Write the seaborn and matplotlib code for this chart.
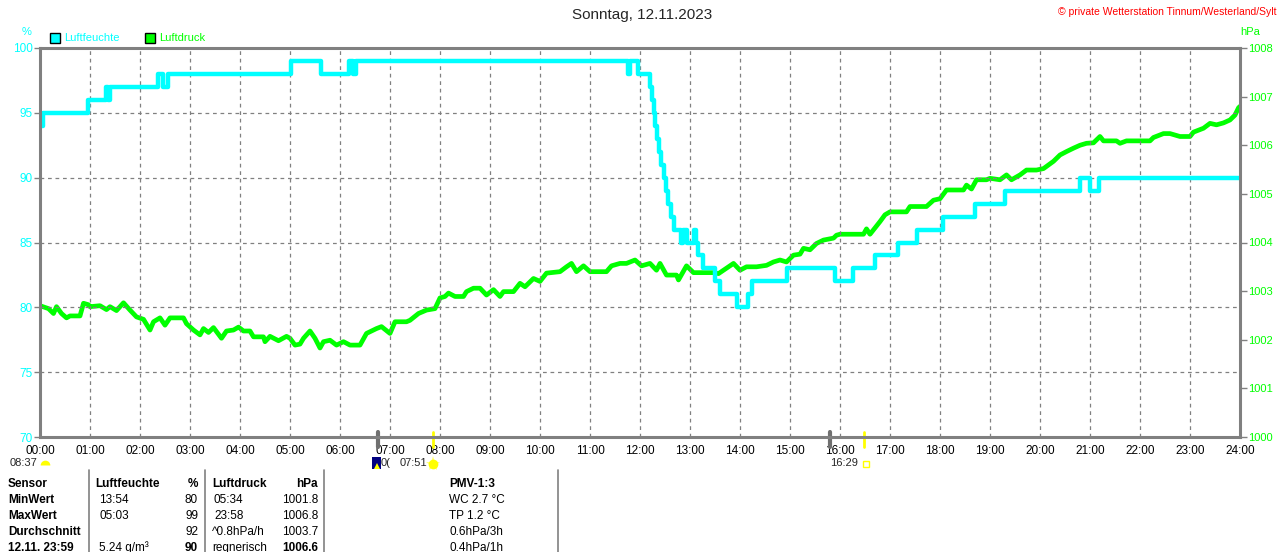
import pandas as pd
import matplotlib.pyplot as plt
import seaborn as sns
from matplotlib.patches import Rectangle
from matplotlib.lines import Line2D

# Luftfeuchte (%), stepwise values: hour of day -> value
hum_time = [0.0, 0.05, 0.95, 1.32, 1.36, 1.40, 2.36, 2.45, 2.56, 5.02, 5.62, 6.18, 6.26, 6.32,
            11.76, 11.80, 11.95, 12.20, 12.24, 12.27, 12.30, 12.33, 12.37, 12.42, 12.47, 12.52,
            12.56, 12.62, 12.68, 12.82, 12.86, 12.94, 13.08, 13.12, 13.16, 13.26, 13.50, 13.60,
            13.94, 14.16, 14.24, 14.94, 15.90, 16.25, 16.70, 17.16, 17.53, 18.05, 18.70, 19.30,
            20.80, 21.00, 21.17, 24.0]
hum_val = [94, 95, 96, 97, 96, 97, 98, 97, 98, 99, 98, 99, 98, 99,
           98, 99, 98, 97, 96, 95, 94, 93, 92, 91, 90, 89,
           88, 87, 86, 85, 86, 85, 86, 85, 84, 83, 82, 81,
           80, 81, 82, 83, 82, 83, 84, 85, 86, 87, 88, 89,
           90, 89, 90, 90]

# Luftdruck (hPa)
press_time = [0.0, 0.03, 0.17, 0.27, 0.33, 0.43, 0.53, 0.6, 0.8, 0.87, 0.97, 1.0, 1.2, 1.33, 1.4,
              1.53, 1.6, 1.67, 1.8, 1.93, 2.07, 2.2, 2.27, 2.4, 2.5, 2.6, 2.75, 2.87, 2.93, 3.07,
              3.2, 3.27, 3.37, 3.47, 3.63, 3.73, 3.87, 3.97, 4.07, 4.2, 4.27, 4.47, 4.5, 4.6, 4.77,
              4.93, 5.0, 5.1, 5.2, 5.27, 5.4, 5.5, 5.6, 5.67, 5.8, 5.93, 6.07, 6.2, 6.4, 6.53,
              6.73, 6.83, 7.0, 7.1, 7.2, 7.33, 7.4, 7.57, 7.73, 7.9, 8.0, 8.1, 8.17, 8.3, 8.47,
              8.53, 8.67, 8.8, 8.93, 9.07, 9.2, 9.27, 9.47, 9.6, 9.7, 9.87, 10.0, 10.13, 10.4,
              10.53, 10.63, 10.73, 10.87, 11.0, 11.33, 11.43, 11.6, 11.73, 11.9, 12.03, 12.2,
              12.33, 12.4, 12.53, 12.73, 12.77, 12.93, 13.07, 13.47, 13.57, 13.87, 14.0, 14.13,
              14.33, 14.53, 14.67, 14.8, 14.93, 15.07, 15.2, 15.27, 15.4, 15.53, 15.67, 15.87,
              15.93, 16.0, 16.47, 16.53, 16.6, 16.8, 16.9, 17.0, 17.33, 17.4, 17.73, 17.87, 18.0,
              18.13, 18.27, 18.47, 18.53, 18.63, 18.73, 18.93, 19.0, 19.2, 19.33, 19.43, 19.6,
              19.73, 19.93, 20.07, 20.27, 20.4, 20.53, 20.67, 20.8, 20.93, 21.07, 21.2, 21.27,
              21.53, 21.6, 21.73, 22.2, 22.27, 22.47, 22.6, 22.8, 23.0, 23.07, 23.27, 23.4,
              23.53, 23.67, 23.8, 23.9, 23.97, 24.0]
press_val = [1002.68, 1002.69, 1002.64, 1002.54, 1002.68, 1002.54, 1002.45, 1002.49, 1002.49,
             1002.75, 1002.72, 1002.68, 1002.70, 1002.62, 1002.68, 1002.60, 1002.68, 1002.76,
             1002.61, 1002.47, 1002.42, 1002.20, 1002.37, 1002.45, 1002.30, 1002.45, 1002.45,
             1002.45, 1002.33, 1002.20, 1002.10, 1002.23, 1002.15, 1002.25, 1002.03, 1002.18,
             1002.20, 1002.26, 1002.18, 1002.18, 1002.06, 1002.06, 1001.96, 1002.07, 1001.98,
             1002.07, 1002.03, 1001.89, 1001.91, 1002.03, 1002.18, 1002.03, 1001.83, 1001.96,
             1001.99, 1001.89, 1001.96, 1001.89, 1001.89, 1002.13, 1002.23, 1002.27, 1002.13,
             1002.37, 1002.37, 1002.37, 1002.40, 1002.54, 1002.61, 1002.64, 1002.86, 1002.89,
             1002.96, 1002.89, 1002.89, 1002.99, 1003.06, 1003.06, 1002.92, 1003.03, 1002.89,
             1002.99, 1002.99, 1003.16, 1003.09, 1003.26, 1003.20, 1003.37, 1003.40, 1003.50,
             1003.57, 1003.40, 1003.52, 1003.40, 1003.40, 1003.52, 1003.57, 1003.57, 1003.64,
             1003.52, 1003.57, 1003.43, 1003.57, 1003.33, 1003.33, 1003.23, 1003.52, 1003.38,
             1003.38, 1003.36, 1003.57, 1003.43, 1003.50, 1003.50, 1003.53, 1003.60, 1003.64,
             1003.60, 1003.74, 1003.76, 1003.88, 1003.85, 1003.98, 1004.05, 1004.09, 1004.15,
             1004.17, 1004.17, 1004.28, 1004.17, 1004.43, 1004.57, 1004.63, 1004.63, 1004.74,
             1004.74, 1004.87, 1004.90, 1005.08, 1005.08, 1005.08, 1005.18, 1005.10, 1005.29,
             1005.29, 1005.32, 1005.29, 1005.39, 1005.29, 1005.39, 1005.49, 1005.49, 1005.52,
             1005.67, 1005.80, 1005.87, 1005.94, 1006.00, 1006.04, 1006.05, 1006.18, 1006.09,
             1006.09, 1006.04, 1006.09, 1006.09, 1006.16, 1006.24, 1006.24, 1006.18, 1006.18,
             1006.27, 1006.35, 1006.45, 1006.42, 1006.46, 1006.52, 1006.62, 1006.77, 1006.80]

hour_labels = ["%02d:00" % h for h in range(25)]
hum_ticks = [70, 75, 80, 85, 90, 95, 100]
press_ticks = [1000, 1001, 1002, 1003, 1004, 1005, 1006, 1007, 1008]
sun_marks = [6.76, 15.8]     # grey marks under the time axis
sun_yellow = [7.85, 16.48]   # yellow marks under the time axis

table_rows = [
    ["Sensor", "Luftfeuchte", "%", "Luftdruck", "hPa", "PMV-1:3"],
    ["MinWert", "13:54", "80", "05:34", "1001.8", "WC 2.7 °C"],
    ["MaxWert", "05:03", "99", "23:58", "1006.8", "TP 1.2 °C"],
    ["Durchschnitt", "", "92", "^0.8hPa/h", "1003.7", "0.6hPa/3h"],
    ["12.11. 23:59", "5.24 g/m³", "90", "regnerisch", "1006.6", "0.4hPa/1h"],
]

CYAN = "#00FFFF"
GREEN = "#00FF00"
GREY = "#808080"

sns.set_style("white")
plt.rcParams['font.family'] = ['Liberation Sans', 'DejaVu Sans']

W, H = 1280, 552
fig = plt.figure(figsize=(12.8, 5.52), dpi=100)
fig.patch.set_facecolor("white")


def fx(px):
    return px / W


def fy(py):
    return 1 - py / H


ax = fig.add_axes([fx(40), fy(437), 1200 / W, 389 / H])
ax2 = ax.twinx()
ax.set_zorder(3)
ax.patch.set_visible(False)
ax2.patch.set_facecolor("white")

df_p = pd.DataFrame({"t": press_time, "p": press_val})
df_h = pd.DataFrame({"t": hum_time, "h": hum_val})

sns.lineplot(data=df_p, x="t", y="p", ax=ax2, color=GREEN, lw=3.4,
             estimator=None, sort=False, legend=False)
sns.lineplot(data=df_h, x="t", y="h", ax=ax, color=CYAN, lw=3.2,
             drawstyle="steps-post", estimator=None, sort=False, legend=False)

ax.set_xlim(0, 24)
ax.set_ylim(70, 100)
ax2.set_ylim(1000, 1008)
ax.set_xlabel("")
ax.set_ylabel("")
ax2.set_ylabel("")

ax.set_xticks(range(25))
ax.set_xticklabels(hour_labels)
ax.set_yticks(hum_ticks)
ax.set_yticklabels([str(v) for v in hum_ticks])
ax2.set_yticks(press_ticks)
ax2.set_yticklabels([str(v) for v in press_ticks])

ax.tick_params(axis="x", length=3, width=1, color=GREY, labelsize=8.5, pad=3, labelcolor="black")
ax.tick_params(axis="y", length=4, width=1, color=GREY, labelsize=8.5, pad=1, labelcolor=CYAN)
ax2.tick_params(axis="y", length=5, width=1, color=GREY, labelsize=8, pad=1, labelcolor=GREEN)

ax.grid(True, color=GREY, ls=(0, (3, 3)), lw=0.9)
for s in ax.spines.values():
    s.set_visible(True)
    s.set_color(GREY)
    s.set_linewidth(2.2)
for s in ax2.spines.values():
    s.set_visible(False)

# marks under the time axis
trans = ax.get_xaxis_transform()
for m in sun_marks:
    ax.plot([m, m], [0.012, -0.026], color="#707070", lw=3, transform=trans, clip_on=False)
for m in sun_yellow:
    ax.plot([m, m], [0.012, -0.026], color="#FFFF00", lw=2, transform=trans, clip_on=False)

# header texts
fig.text(fx(642), fy(15), "Sonntag, 12.11.2023", ha="center", va="center", fontsize=11)
fig.text(fx(1276), fy(12), "© private Wetterstation Tinnum/Westerland/Sylt", ha="right",
         va="center", fontsize=7.5, color="#FF0000")
fig.text(fx(27), fy(32), "%", ha="center", va="center", fontsize=8, color=CYAN)
fig.text(fx(1250), fy(32), "hPa", ha="center", va="center", fontsize=8, color=GREEN)

# legend
for x0, col, lab in [(50, CYAN, "Luftfeuchte"), (145, GREEN, "Luftdruck")]:
    fig.add_artist(Rectangle((fx(x0), fy(43)), 10 / W, 10 / H, transform=fig.transFigure,
                             facecolor=col, edgecolor="black", lw=1))
    fig.text(fx(x0 + 14), fy(38), lab, ha="left", va="center", fontsize=8, color=col)

# sun info under the axis
fig.text(fx(10), fy(463), "08:37", ha="left", va="center", fontsize=8)
fig.add_artist(Line2D([fx(45)], [fy(465)], marker="o", ms=7, mew=0, color="#FFFF00",
                      fillstyle="top", markerfacecoloralt="none", transform=fig.transFigure))
fig.add_artist(Rectangle((fx(372), fy(469)), 9 / W, 12 / H, transform=fig.transFigure,
                         facecolor="#000080", edgecolor="none"))
fig.add_artist(Line2D([fx(377)], [fy(466)], marker="^", ms=4, mew=0, color="#FFFF00",
                      transform=fig.transFigure))
fig.text(fx(381), fy(463), "0(", ha="left", va="center", fontsize=8)
fig.text(fx(400), fy(463), "07:51", ha="left", va="center", fontsize=8)
fig.add_artist(Line2D([fx(433)], [fy(464)], marker="o", ms=7, mew=0, color="#FFFF00",
                      transform=fig.transFigure))
fig.add_artist(Line2D([fx(433)], [fy(464)], marker="*", ms=11, mew=0, color="#FFFF80",
                      transform=fig.transFigure, zorder=0))
fig.text(fx(858), fy(463), "16:29", ha="right", va="center", fontsize=8)
fig.add_artist(Line2D([fx(866)], [fy(464)], marker="s", ms=5, mew=1, mec="#FFFF00",
                      mfc="none", transform=fig.transFigure))

# table
for xs in [89, 205, 324, 558]:
    fig.add_artist(Line2D([fx(xs), fx(xs)], [fy(470), fy(552)], color=GREY, lw=1.2,
                          transform=fig.transFigure))

col_pos = [(8, "left"), (99, "left"), (198, "right"), (214, "left"), (318, "right"), (449, "left")]
row_y = [484, 500, 516, 532, 548]
for r, (row, yy) in enumerate(zip(table_rows, row_y)):
    for c, (txt, (xx, ha)) in enumerate(zip(row, col_pos)):
        if r == 0 and c == 1:
            xx = 95
        if r == 0 and c == 3:
            xx = 212
        if r >= 3 and c == 3:
            xx = 212
        bold = r == 0 or c == 0 or (r == 4 and c in (2, 4))
        fig.text(fx(xx), fy(yy), txt, ha=ha, va="center", fontsize=8.5,
                 fontweight="bold" if bold else "normal", color="black")

plt.savefig("out.png", dpi=100)
